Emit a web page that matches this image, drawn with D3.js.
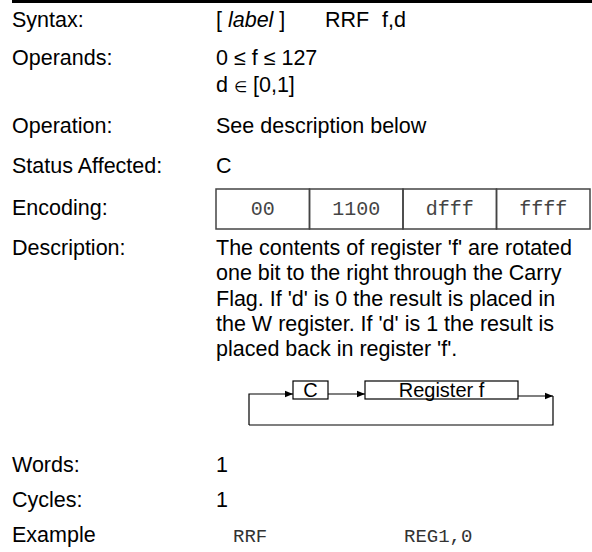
<!DOCTYPE html>
<html>
<head>
<meta charset="utf-8">
<script src="https://cdn.jsdelivr.net/npm/d3@7"></script>
<style>
  html, body { margin: 0; padding: 0; background: #fff; }
  svg { display: block; }
</style>
</head>
<body>
<div id="chart"></div>
<script>
// ---------------- data ----------------
const fieldLabels = ["Syntax:", "Operands:", "Operation:", "Status Affected:", "Encoding:", "Description:", "Words:", "Cycles:", "Example"];
const syntaxParts = ["[ ", "label", " ]"];
const syntaxMnemonic = ["RRF", "f,d"];
const operandLine1 = ["0 \u2264 f \u2264 127"];
const operandLine2 = ["d ", "\u2208", " [0,1]"];
const operationText = ["See description below"];
const statusText = ["C"];
const encodingCells = ["00", "1100", "dfff", "ffff"];
const descriptionLines = [
  "The contents of register 'f' are rotated",
  "one bit to the right through the Carry",
  "Flag. If 'd' is 0 the result is placed in",
  "the W register. If 'd' is 1 the result is",
  "placed back in register 'f'."
];
const diagramBoxes = ["C", "Register f"];
const wordsValue = ["1"];
const cyclesValue = ["1"];
const exampleParts = ["RRF", "REG1,0"];

// ---------------- layout ----------------
const W = 592, H = 552;
const FONT = "'Liberation Sans', Arial, Helvetica, sans-serif";
const MONO = "'Liberation Mono', 'Courier New', monospace";
const FS = 21.5;
const labelX = 12, valueX = 216;
const labelY = [27, 65, 133, 173, 215, 255, 472, 507, 542];

const svg = d3.select("#chart").append("svg")
  .attr("width", W).attr("height", H)
  .attr("viewBox", `0 0 ${W} ${H}`);

// top rule
svg.append("rect").attr("x", 12).attr("y", 0).attr("width", W - 12).attr("height", 3).attr("fill", "#000");

const yRow = d3.scaleOrdinal().domain(fieldLabels).range(labelY);

// labels
svg.append("g").selectAll("text").data(fieldLabels).join("text")
  .attr("x", labelX).attr("y", d => yRow(d))
  .attr("font-family", FONT).attr("font-size", FS).attr("fill", "#000")
  .text(d => d);

// syntax line
const syn = svg.append("text").attr("x", valueX).attr("y", yRow("Syntax:"))
  .attr("font-family", FONT).attr("font-size", FS).attr("fill", "#000")
  .attr("xml:space", "preserve");
syn.selectAll("tspan").data(syntaxParts).join("tspan")
  .attr("font-style", (d, i) => i === 1 ? "italic" : "normal")
  .text(d => d);
const synX = d3.scaleOrdinal().domain(syntaxMnemonic).range([325, 382]);
svg.append("g").selectAll("text").data(syntaxMnemonic).join("text")
  .attr("x", d => synX(d)).attr("y", yRow("Syntax:"))
  .attr("font-family", FONT).attr("font-size", FS).text(d => d);

// operands
const lineGap = 27;
svg.append("text").attr("x", valueX).attr("y", yRow("Operands:"))
  .attr("font-family", FONT).attr("font-size", FS).text(operandLine1[0]);
const op2 = svg.append("text").attr("x", valueX).attr("y", yRow("Operands:") + lineGap)
  .attr("font-family", FONT).attr("font-size", FS).attr("xml:space", "preserve");
op2.selectAll("tspan").data(operandLine2).join("tspan")
  .attr("font-size", (d, i) => i === 1 ? 15 : FS)
  .attr("font-family", (d, i) => i === 1 ? "'DejaVu Sans', sans-serif" : FONT)
  .text(d => d);

// operation, status
svg.append("text").attr("x", valueX).attr("y", yRow("Operation:"))
  .attr("font-family", FONT).attr("font-size", FS).text(operationText[0]);
svg.append("text").attr("x", valueX).attr("y", yRow("Status Affected:"))
  .attr("font-family", FONT).attr("font-size", FS).text(statusText[0]);

// encoding boxes
const xEnc = d3.scaleBand().domain(encodingCells).range([216, 590]);
const encTop = 189, encH = 40;
const enc = svg.append("g");
enc.selectAll("rect").data(encodingCells).join("rect")
  .attr("x", d => xEnc(d)).attr("y", encTop)
  .attr("width", xEnc.bandwidth()).attr("height", encH)
  .attr("fill", "none").attr("stroke", "#444").attr("stroke-width", 1.5);
enc.selectAll("text").data(encodingCells).join("text")
  .attr("x", d => xEnc(d) + xEnc.bandwidth() / 2).attr("y", yRow("Encoding:"))
  .attr("text-anchor", "middle")
  .attr("font-family", MONO).attr("font-size", 20).attr("fill", "#444")
  .text(d => d);

// description
const descGap = 25.3;
svg.append("g").selectAll("text").data(descriptionLines).join("text")
  .attr("x", valueX).attr("y", (d, i) => yRow("Description:") + i * descGap)
  .attr("font-family", FONT).attr("font-size", FS).text(d => d);

// diagram
const defs = svg.append("defs");
defs.append("marker").attr("id", "ah").attr("viewBox", "0 0 10 10")
  .attr("refX", 10).attr("refY", 5).attr("markerWidth", 14).attr("markerHeight", 8)
  .attr("markerUnits", "userSpaceOnUse").attr("orient", "auto")
  .append("path").attr("d", "M0,1 L10,5 L0,9 Z").attr("fill", "#000");

const boxX = d3.scaleOrdinal().domain(diagramBoxes).range([293, 365]);
const boxW = d3.scaleOrdinal().domain(diagramBoxes).range([35, 153]);
const boxTop = 381, boxH = 18;
const dg = svg.append("g");
dg.selectAll("rect").data(diagramBoxes).join("rect")
  .attr("x", d => boxX(d)).attr("y", boxTop)
  .attr("width", d => boxW(d)).attr("height", boxH)
  .attr("fill", "none").attr("stroke", "#000").attr("stroke-width", 1.2);
dg.selectAll("text").data(diagramBoxes).join("text")
  .attr("x", d => boxX(d) + boxW(d) / 2).attr("y", boxTop + boxH - 2)
  .attr("text-anchor", "middle")
  .attr("font-family", FONT).attr("font-size", 20).text(d => d);

const loopL = 249, loopR = 553, loopB = 425, arrowY = 394, arrowY2 = 396;
const cRight = boxX("C") + boxW("C");
const rRight = boxX("Register f") + boxW("Register f");
const lineGen = d3.line();
const paths = [
  { pts: [[loopL, loopB], [loopL, arrowY], [boxX("C"), arrowY]], arrow: true },
  { pts: [[cRight, arrowY], [boxX("Register f"), arrowY]], arrow: true },
  { pts: [[rRight, arrowY2], [loopR, arrowY2]], arrow: true },
  { pts: [[loopR, arrowY2], [loopR, loopB], [loopL, loopB]], arrow: false }
];
dg.selectAll("path.wire").data(paths).join("path").attr("class", "wire")
  .attr("d", d => lineGen(d.pts))
  .attr("fill", "none").attr("stroke", "#000").attr("stroke-width", 1.2)
  .attr("marker-end", d => d.arrow ? "url(#ah)" : null);

// words, cycles
svg.append("text").attr("x", valueX).attr("y", yRow("Words:"))
  .attr("font-family", FONT).attr("font-size", FS).text(wordsValue[0]);
svg.append("text").attr("x", valueX).attr("y", yRow("Cycles:"))
  .attr("font-family", FONT).attr("font-size", FS).text(cyclesValue[0]);

// example
const exX = d3.scaleOrdinal().domain(exampleParts).range([233, 404]);
svg.append("g").selectAll("text").data(exampleParts).join("text")
  .attr("x", d => exX(d)).attr("y", yRow("Example"))
  .attr("font-family", MONO).attr("font-size", 19).attr("fill", "#333")
  .text(d => d);
</script>
</body>
</html>
